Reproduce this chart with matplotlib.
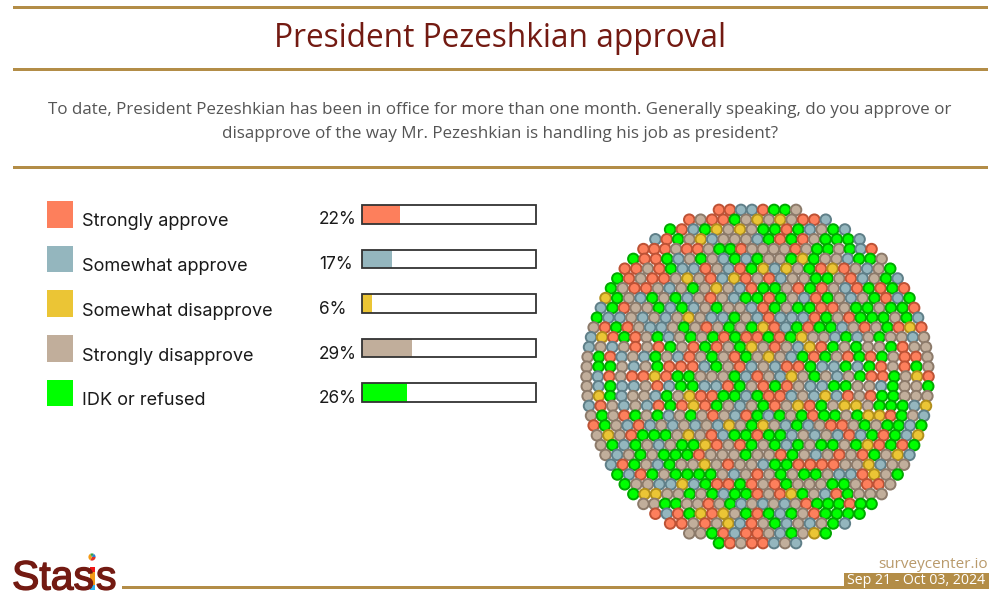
#!/usr/bin/env python

import numpy as np
import matplotlib
matplotlib.use("Agg")
import matplotlib.pyplot as plt
import matplotlib.patheffects as pe
from matplotlib.patches import Rectangle, Wedge

title = "President Pezeshkian approval"
question = ["To date, President Pezeshkian has been in office for more than one month. Generally speaking, do you approve or",
            "disapprove of the way Mr. Pezeshkian is handling his job as president?"]
categories = ["Strongly approve", "Somewhat approve", "Somewhat disapprove", "Strongly disapprove", "IDK or refused"]
values = [22, 17, 6, 29, 26]
site = "surveycenter.io"
dates = "Sep 21 - Oct 03, 2024"

### one letter per dot, rows top to bottom
### a=strongly approve b=somewhat approve c=somewhat disapprove d=strongly disapprove e=idk
dot_rows = [
    "aabbaeed",
    "adaaedcdcdaab",
    "eabecdcdeeaebdeb",
    "baedcbdddbeaeadeeeb",
    "aaadaadeeaddddadeedeba",
    "eaaebdedbebeddeceddbeed",
    "aadaebbadbaecbcdeacadbde",
    "eadaadcdabcadabddeedabdeb",
    "edaadbdedcdbaeedaeadbaeaea",
    "cedbedebdadbeeaedbaedbdeabe",
    "beaddebebdeddbaedeeaadeedeea",
    "ebbdbdbdcdbbedbabbbaedaeeedeb",
    "daeadbbdedadedecabeaeebdadeaca",
    "bcaeadebdedeaeaaeaecddbebdeddbd",
    "bdbdadaedaeadecdadbcaededdeadd",
    "deabdbedbadedaedcdbeaedaeaedaad",
    "deedbdeaaabedabdbaaebbebeadaed",
    "dbadaacaeedddebadbcdedbdeaaedca",
    "dbebbdabeebbaedaeadbbeeddbedde",
    "dcebddbedcaaeebeaabdbcbadaeeddd",
    "badbdbaeacaedbdeadcaedccdeeebc",
    "dedaedebdedadbaebedeaeedeccaedb",
    "aedbabdbdbdbcdecdbebdaadedeebe",
    "dcdaeeedcdabeeaeebdbdbabeaebc",
    "debedbdeecadaedebedeedecaeae",
    "dbdedeeeadddeddaedbdadaedcb",
    "baedbeddcdaddbeeaaaaddcbdd",
    "ebaedeeeedbdadedeedbbacde",
    "eddbbcbeaaeadaedddeedaad",
    "eccddedebeeadacedbaeddd",
    "ddeeddadebdbdbdaeeeaee",
    "abaecacdeaebedaeeee",
    "aadadcbadebdbdeb",
    "ddeabaadbedce",
    "eadaabdb",
]

gold = "#b38d47"
dark_red = "#731a12"
fills = {"a": "#fd7f5c", "b": "#94b6be", "c": "#ebc535", "d": "#c1ae9b", "e": "#00ff00"}
edges = {"a": "#bd5235", "b": "#5f7f88", "c": "#b18f1c", "d": "#8c7a6a", "e": "#00a800"}
legend_colors = [fills[k] for k in "abcde"]

fig = plt.figure(figsize=(10, 6), dpi=100)
ax = fig.add_axes([0, 0, 1, 1])
ax.set_xlim(0, 1000)
ax.set_ylim(600, 0)
ax.axis("off")

### header rules
for y in [7.5, 69.5, 167.5]:
    ax.add_patch(Rectangle((13, y-1.5), 975, 3, fc=gold, ec="none"))

ax.text(500, 38.5, title, ha="center", va="center", fontsize=22.8, color=dark_red, family="Open Sans")
ax.text(500, 110, question[0], ha="center", va="center", fontsize=12.28, color="#555555", family="Open Sans")
ax.text(500, 134, question[1], ha="center", va="center", fontsize=12.28, color="#555555", family="Open Sans")

### legend and bars
for i, (cat, val) in enumerate(zip(categories, values)):
    ytop = 201 + i*44.7
    ax.add_patch(Rectangle((47, ytop), 26, 26.5, fc=legend_colors[i], ec="none"))
    ax.text(82, ytop+21, cat, ha="left", va="center", fontsize=13.05, color="#1a1a1a", family="Inter")
    ax.text(319, ytop+19, "%d%%" % val, ha="left", va="center", fontsize=12.4, color="#1a1a1a", family="Inter")
    ybar = 205 + i*44.5
    ax.add_patch(Rectangle((362, ybar), 174*val/100., 18.5, fc=legend_colors[i], ec="none", zorder=2))
    ax.add_patch(Rectangle((362, ybar), 174, 18.5, fc="none", ec="#333333", lw=1.3, zorder=3))

### packed dots, each row stretched to the chord of the disc
xc, yc = 757.5, 376.5
dy = 9.8
rdisc = 171.
nrows = len(dot_rows)
xs, ys, cs, es = [], [], [], []
for k, row in enumerate(dot_rows):
    yoff = (k-(nrows-1)/2.)*dy
    halfw = np.sqrt(rdisc**2 - yoff**2)
    for j, ch in enumerate(row):
        xs.append(xc - halfw + j*2*halfw/(len(row)-1))
        ys.append(yc + yoff)
        cs.append(fills[ch])
        es.append(edges[ch])
ax.scatter(xs, ys, s=58, c=cs, edgecolors=es, linewidths=1.4, zorder=4)

### logo
thick = [pe.withStroke(linewidth=1.0, foreground=dark_red)]
ax.text(12, 589.5, "Stas", ha="left", va="baseline", fontsize=29.5, color=dark_red, family="Liberation Sans", path_effects=thick)
ax.text(96, 589.5, "s", ha="left", va="baseline", fontsize=29.5, color=dark_red, family="Liberation Sans", path_effects=thick)
for y0, h, col in [(566.5, 5, "#f01515"), (571.5, 13, "#f49a16"), (584.5, 5, "#2fb2ee")]:
    ax.add_patch(Rectangle((89.5, y0), 5.5, h, fc=col, ec="none"))
for a0, a1, col in [(0, 120, "#e0342a"), (120, 240, "#f49a16"), (240, 300, "#2fa04a"), (300, 360, "#2f7fd0")]:
    ax.add_patch(Wedge((92, 557), 3.6, a0, a1, fc=col, ec="none"))

### footer
ax.add_patch(Rectangle((122, 586), 723, 3, fc=gold, ec="none"))
ax.add_patch(Rectangle((844, 573), 145, 16, fc=gold, ec="none"))
ax.text(916.5, 581, dates, ha="center", va="center", fontsize=10.2, color="white", family="Open Sans")
ax.text(988, 565, site, ha="right", va="center", fontsize=11, color="#b99a6b", family="Open Sans")

fig.savefig("out.png", dpi=100)
